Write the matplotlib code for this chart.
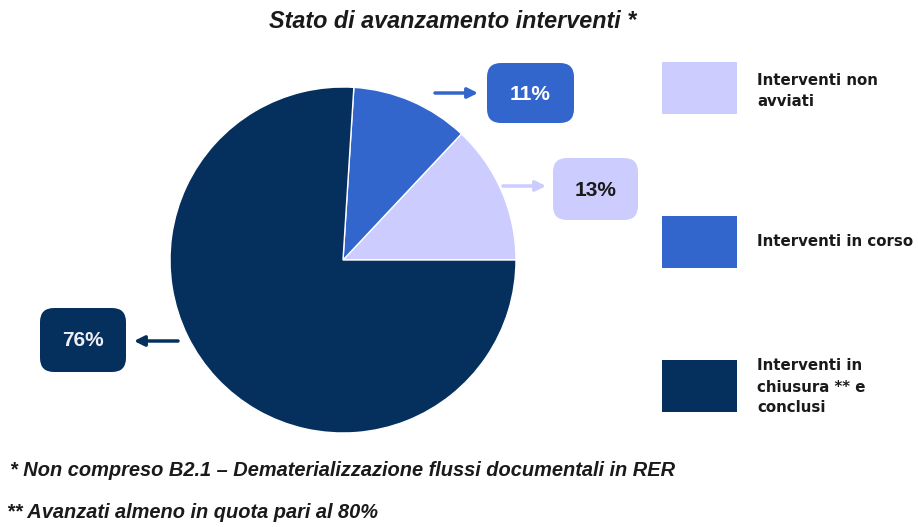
import matplotlib.pyplot as plt
from matplotlib.patches import FancyBboxPatch, Rectangle

# -----------------------------------------------------
# Data
# -----------------------------------------------------

categories = [
    "Interventi non\navviati",
    "Interventi in corso",
    "Interventi in\nchiusura ** e\nconclusi",
]
values = [13, 11, 76]
colors = ["#CCCCFF", "#3366CC", "#05305E"]

title = "Stato di avanzamento interventi *"
notes = [
    "* Non compreso B2.1 \u2013 Dematerializzazione flussi documentali in RER",
    "** Avanzati almeno in quota pari al 80%",
]

# -----------------------------------------------------
# Figure (pixel coordinates, y downwards)
# -----------------------------------------------------

fig = plt.figure(figsize=(9.18, 5.27), dpi=100)
ax = fig.add_axes([0, 0, 1, 1])
ax.set_xlim(0, 918)
ax.set_ylim(527, 0)
ax.set_aspect("equal")
ax.axis("off")

ax.pie(
    values,
    colors=colors,
    startangle=0,
    counterclock=False,
    center=(343, 260),
    radius=173,
    wedgeprops=dict(edgecolor="white", linewidth=1),
)
ax.set_xlim(0, 918)
ax.set_ylim(527, 0)

ax.text(453, 22, title, ha="center", va="center", fontsize=16.8,
        fontweight="bold", fontstyle="italic", family="Liberation Sans",
        color="#1A1A1A")

# -----------------------------------------------------
# Value boxes with arrows
# -----------------------------------------------------

# (box x0, y0, x1, y1, arrow start, arrow end, text colour)
boxes = [
    (553, 158, 638, 220, (503, 186), (546, 186), "#1A1A1A"),
    (487, 63, 574, 123, (435, 93), (478, 93), "white"),
    (40, 308, 126, 372, (178, 341), (134, 341), "#EEEEF4"),
]

for (x0, y0, x1, y1, a0, a1, tc), v, c in zip(boxes, values, colors):
    r = 14
    ax.add_patch(FancyBboxPatch(
        (x0 + r, y0 + r), (x1 - x0) - 2 * r, (y1 - y0) - 2 * r,
        boxstyle=f"round,pad={r},rounding_size={r}",
        facecolor=c, edgecolor="none"))
    ax.text((x0 + x1) / 2, (y0 + y1) / 2 + 1, f"{v}%", ha="center", va="center",
            fontsize=15, fontweight="bold", color=tc, family="Liberation Sans")
    ax.annotate("", xy=a1, xytext=a0,
                arrowprops=dict(arrowstyle="-|>,head_length=0.6,head_width=0.3",
                                color=c, lw=2.5, shrinkA=0, shrinkB=0))

# -----------------------------------------------------
# Legend
# -----------------------------------------------------

patch_y = [88, 242, 386]
text_y = [91, 242, 387]
for lab, c, py, ty in zip(categories, colors, patch_y, text_y):
    ax.add_patch(Rectangle((662, py - 26), 75, 52, facecolor=c, edgecolor="none"))
    ax.text(757, ty, lab, ha="left", va="center", fontsize=10.8,
            fontweight="bold", family="DejaVu Sans", color="#1A1A1A",
            linespacing=1.5)

# -----------------------------------------------------
# Footnotes
# -----------------------------------------------------

ax.text(10, 471, notes[0], ha="left", va="center", fontsize=14.4,
        fontweight="bold", fontstyle="italic", family="Liberation Sans",
        color="#1A1A1A")
ax.text(7, 513, notes[1], ha="left", va="center", fontsize=14.4,
        fontweight="bold", fontstyle="italic", family="Liberation Sans",
        color="#1A1A1A")

fig.savefig("out.png", dpi=100)
